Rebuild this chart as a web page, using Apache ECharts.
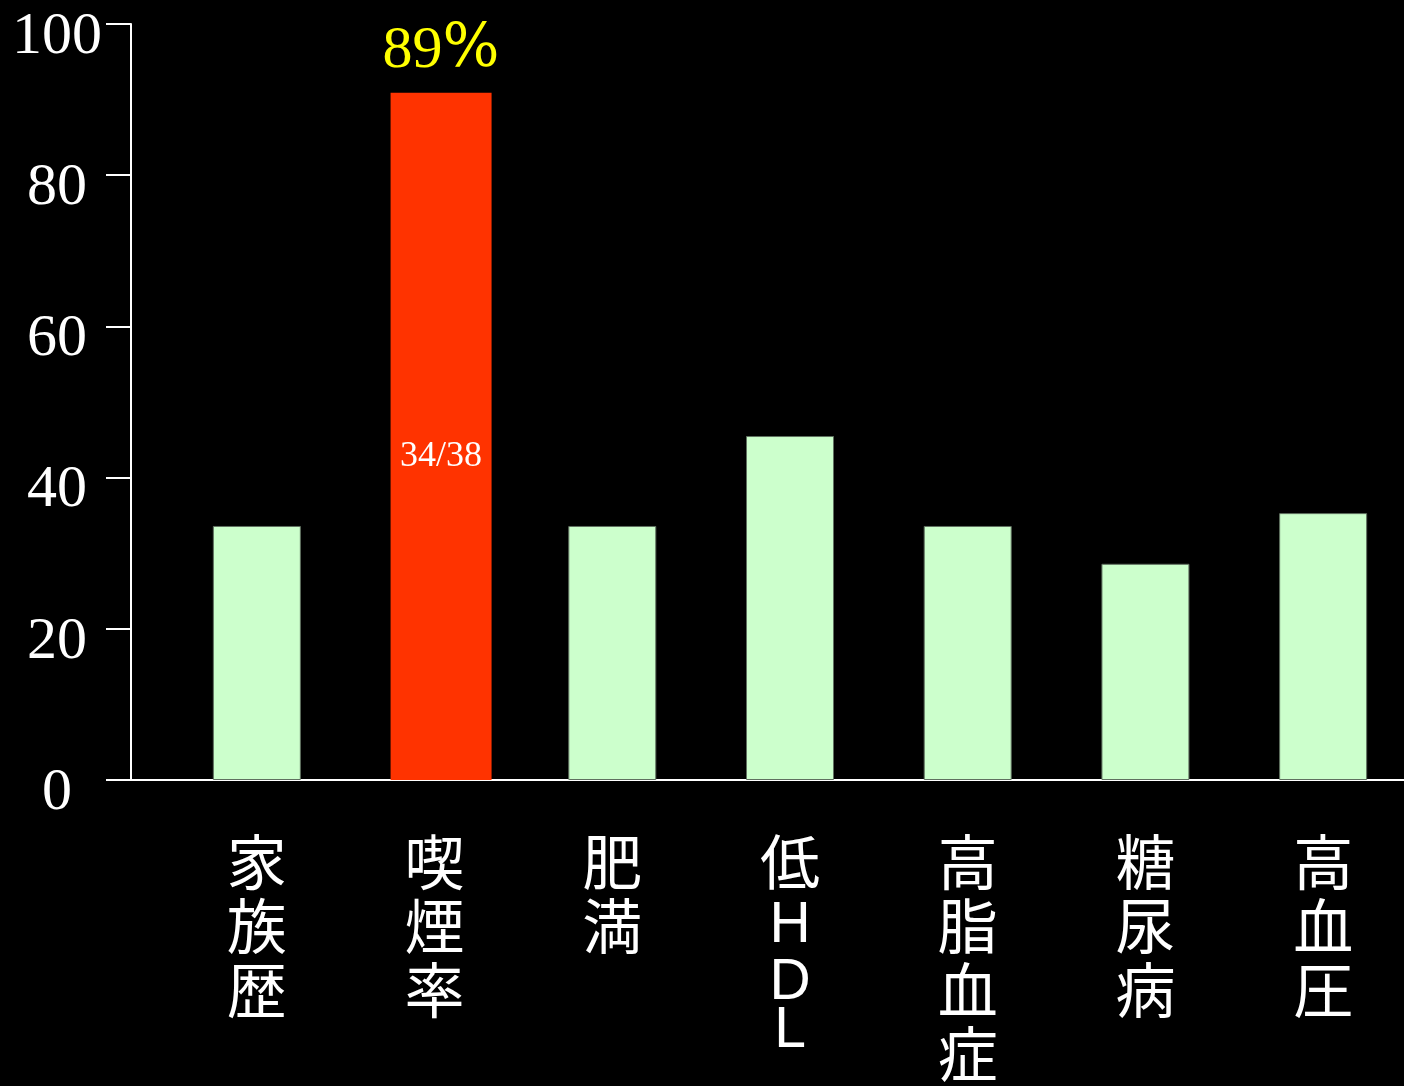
<!DOCTYPE html>
<html>
<head>
<meta charset="utf-8">
<script src="https://cdn.jsdelivr.net/npm/echarts@6/dist/echarts.min.js"></script>
<style>
html,body{margin:0;padding:0;background:#000;}
#chart{width:1404px;height:1086px;}
</style>
</head>
<body>
<div id="chart"></div>
<script>
// ---- data ----
const categories = ['家族歴', '喫煙率', '肥満', '低HDL', '高脂血症', '糖尿病', '高血圧'];
const riskValues = [33.6, 90.9, 33.6, 45.5, 33.6, 28.6, 35.3];
const highlightIndex = 1;
const highlightPercentText = '89%';
const highlightCountText = '34/38';
const yMin = 0, yMax = 100, yStep = 20;

// ---- build ----
const redData = riskValues.map((v, i) => i === highlightIndex ? v : '-');
const greenData = riskValues.map((v, i) => i === highlightIndex ? '-' : v);
const yAxisOffset = 37;

const chart = echarts.init(document.getElementById('chart'), null, {renderer: 'canvas'});

function catLabel(name) {
  const chars = name.split('');
  return chars.map((ch, i) => {
    if (/[A-Za-z]/.test(ch)) {
      const first = i > 0 && !/[A-Za-z]/.test(chars[i - 1]);
      return '{' + (first ? 'l1' : 'l') + '|' + ch + '}';
    }
    return '{c|' + ch + '}';
  }).join('\n');
}

const pctNum = highlightPercentText.replace('%', '');

const option = {
  backgroundColor: '#000',
  animation: false,
  grid: {left: 168, right: -8, top: 24, bottom: 306, containLabel: false, outerBoundsMode: 'none'},
  xAxis: {
    type: 'category',
    data: categories,
    axisLine: {show: true, lineStyle: {color: '#fff', width: 2}},
    axisTick: {show: false},
    axisLabel: {
      interval: 0,
      margin: 50,
      formatter: catLabel,
      rich: {
        c: {fontFamily: 'Noto Sans CJK JP', fontSize: 60, lineHeight: 64, color: '#fff'},
        l1: {fontFamily: 'Liberation Sans', fontSize: 57, lineHeight: 65, color: '#fff'},
        l: {fontFamily: 'Liberation Sans', fontSize: 57, lineHeight: 48, color: '#fff'}
      }
    }
  },
  yAxis: {
    type: 'value',
    min: yMin, max: yMax, interval: yStep,
    offset: yAxisOffset,
    axisLine: {show: true, lineStyle: {color: '#fff', width: 2}},
    axisTick: {show: true, length: 25, lineStyle: {color: '#fff', width: 2}},
    splitLine: {show: false},
    axisLabel: {
      color: '#fff', fontFamily: 'Liberation Serif', fontSize: 60,
      align: 'center', margin: 74, verticalAlign: 'top', lineHeight: 26
    }
  },
  series: [
    {
      type: 'bar',
      data: redData,
      barWidth: 101,
      barGap: '-100%',
      itemStyle: {color: '#ff3300'},
      label: {
        show: true, position: 'inside', offset: [0, 20],
        formatter: highlightCountText,
        color: '#fff', fontFamily: 'Liberation Serif', fontSize: 36
      },
      markPoint: {
        symbol: 'rect', symbolSize: 0,
        data: [{type: 'max'}],
        label: {
          show: true, position: 'top', distance: 12,
          formatter: '{n|' + pctNum + '}{p|%}',
          rich: {
            n: {fontFamily: 'Liberation Serif', fontSize: 60, lineHeight: 60, color: '#ffff00'},
            p: {fontFamily: 'DejaVu Serif', fontSize: 60, lineHeight: 60, color: '#ffff00'}
          }
        }
      }
    },
    {
      type: 'bar',
      data: greenData,
      barWidth: 88,
      barGap: '-100%',
      itemStyle: {color: '#ccffcc', borderColor: '#607060', borderWidth: 1}
    }
  ]
};
chart.setOption(option);

// extend x-axis baseline back to the (offset) y-axis
const y0 = chart.convertToPixel({yAxisIndex: 0}, yMin);
const rect = chart.getModel().getComponent('grid').coordinateSystem.getRect();
chart.setOption({
  graphic: [{
    type: 'line',
    shape: {x1: rect.x - yAxisOffset, y1: y0, x2: rect.x, y2: y0},
    style: {stroke: '#fff', lineWidth: 2},
    z: 10
  }]
});
</script>
</body>
</html>
